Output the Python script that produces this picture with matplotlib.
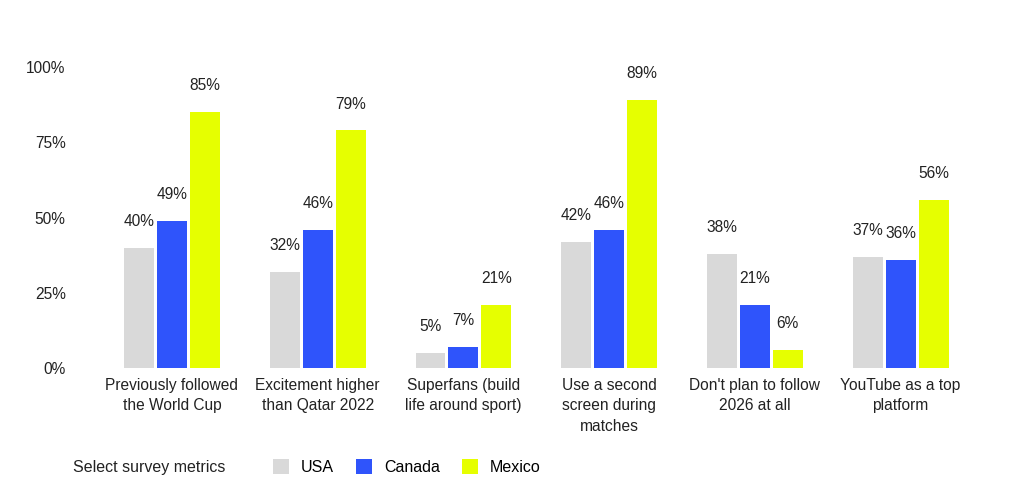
import numpy as np
import matplotlib.pyplot as plt
from matplotlib.patches import Patch

plt.rcParams['font.family'] = ['Liberation Sans', 'DejaVu Sans']

categories = ["Previously followed\nthe World Cup", "Excitement higher\nthan Qatar 2022",
              "Superfans (build\nlife around sport)", "Use a second\nscreen during\nmatches",
              "Don't plan to follow\n2026 at all", "YouTube as a top\nplatform"]
usa = [40, 32, 5, 42, 38, 37]
canada = [49, 46, 7, 46, 21, 36]
mexico = [85, 79, 21, 89, 6, 56]
series = ["USA", "Canada", "Mexico"]
colors = ["#d9d9d9", "#2f54fb", "#e6ff00"]

fig = plt.figure(figsize=(10.24, 4.98), dpi=100)
ax = fig.add_axes([0.0967, 0.261, 0.854, 0.604])

x = np.arange(len(categories))
width = 0.205
step = 0.226
for i, (vals, col) in enumerate(zip([usa, canada, mexico], colors)):
    pos = x + (i - 1) * step
    ax.bar(pos, vals, width, color=col)
    for p, v in zip(pos, vals):
        # label sits ~26 px above bar top
        ax.annotate(f"{v}%", (p, v), xytext=(0, 19), textcoords='offset points',
                    ha='center', va='center', fontsize=11.2, color='#222222')

ax.set_xlim(-0.5, 5.5)
ax.set_ylim(0, 100)
ax.set_yticks([0, 25, 50, 75, 100])
ax.set_yticklabels(["0%", "25%", "50%", "75%", "100%"])
ax.set_xticks(x)
ax.set_xticklabels(categories, fontsize=11.2, color='#222222', linespacing=1.45)
ax.tick_params(axis='y', length=0, pad=24, labelsize=11.2, labelcolor='#222222')
ax.tick_params(axis='x', length=0, pad=7)
for s in ax.spines.values():
    s.set_visible(False)

fig.text(0.0713, 0.062, "Select survey metrics", fontsize=11.5, color='#222222', va='center')
handles = [Patch(facecolor=c, label=s) for s, c in zip(series, colors)]
fig.legend(handles=handles, loc='center left', bbox_to_anchor=(0.26, 0.062), ncol=3,
           frameon=False, fontsize=11.5, handlelength=1.0, handleheight=1.0,
           handletextpad=0.75, columnspacing=1.4, borderaxespad=0)

fig.savefig("out.png", dpi=100)
